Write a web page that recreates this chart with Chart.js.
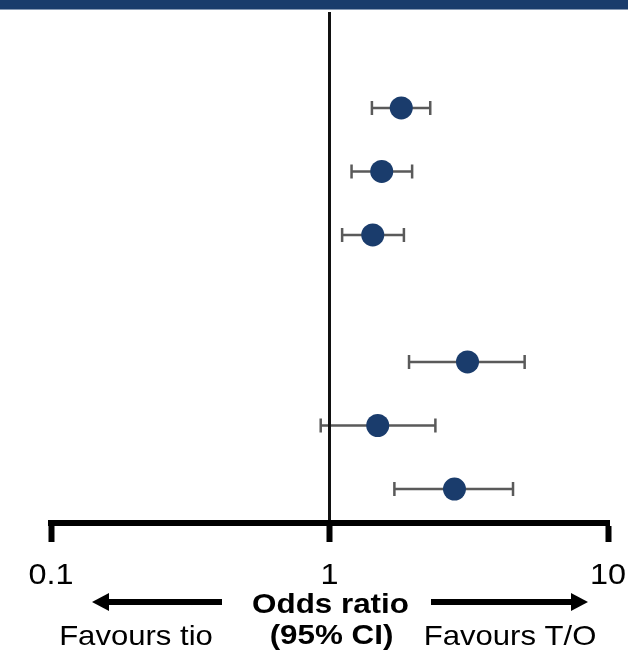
<!DOCTYPE html>
<html>
<head>
<meta charset="utf-8">
<script src="https://cdn.jsdelivr.net/npm/chart.js@4.4.1/dist/chart.umd.min.js"></script>
<style>
  html, body { margin: 0; padding: 0; background: #fff; }
  canvas { display: block; }
</style>
</head>
<body>
<canvas id="forest" width="628" height="657"></canvas>
<script>
// forest plot: odds ratio with 95% CI, log x axis
const rows = [1, 2, 3, 5, 6, 7];
const oddsRatio = [1.81, 1.54, 1.43, 3.13, 1.49, 2.81];
const ciLower = [1.42, 1.20, 1.11, 1.93, 0.93, 1.71];
const ciUpper = [2.30, 1.98, 1.85, 5.02, 2.40, 4.56];
const tickValues = [0.1, 1, 10];
const tickLabels = ['0.1', '1', '10'];
const axisTitle = ['Odds ratio', '(95% CI)'];
const favourLeft = 'Favours tio';
const favourRight = 'Favours T/O';

const NAVY = '#1a3c6c';
const FONT = '"Liberation Sans", Arial, sans-serif';

// text in the reference is slightly wider than plain Arial
function wideText(ctx, text, x, y, font, sx) {
  ctx.save();
  ctx.font = font;
  ctx.fillStyle = '#000';
  ctx.textAlign = 'center';
  ctx.textBaseline = 'alphabetic';
  ctx.translate(x, y);
  ctx.scale(sx, 1);
  ctx.fillText(text, 0, 0);
  ctx.restore();
}

function arrow(ctx, x0, x1, y) {
  const dir = Math.sign(x1 - x0);
  const headLen = 17, headH = 9;
  ctx.save();
  ctx.strokeStyle = '#000';
  ctx.fillStyle = '#000';
  ctx.lineWidth = 6;
  ctx.beginPath();
  ctx.moveTo(x0, y);
  ctx.lineTo(x1 - dir * headLen, y);
  ctx.stroke();
  ctx.beginPath();
  ctx.moveTo(x1, y);
  ctx.lineTo(x1 - dir * headLen, y - headH);
  ctx.lineTo(x1 - dir * headLen, y + headH);
  ctx.closePath();
  ctx.fill();
  ctx.restore();
}

const errorBars = {
  id: 'errorBars',
  beforeDraw(chart) {
    const ctx = chart.ctx;
    const xs = chart.scales.x, ys = chart.scales.y;
    // header band
    ctx.save();
    ctx.fillStyle = NAVY;
    ctx.fillRect(0, 0, chart.width, 9);
    ctx.fillStyle = '#8799b4';
    ctx.fillRect(0, 9, chart.width, 1);
    ctx.restore();

    ctx.save();
    ctx.strokeStyle = '#5a5a5a';
    ctx.lineWidth = 2.5;
    rows.forEach((r, i) => {
      const y = ys.getPixelForValue(r);
      const a = xs.getPixelForValue(ciLower[i]);
      const b = xs.getPixelForValue(ciUpper[i]);
      ctx.beginPath();
      ctx.moveTo(a, y); ctx.lineTo(b, y);
      ctx.moveTo(a, y - 7); ctx.lineTo(a, y + 7);
      ctx.moveTo(b, y - 7); ctx.lineTo(b, y + 7);
      ctx.stroke();
    });
    ctx.restore();
  },
  afterDraw(chart) {
    const ctx = chart.ctx;
    const xs = chart.scales.x;
    const mid = xs.getPixelForValue(1);
    tickValues.forEach((v, i) => {
      wideText(ctx, tickLabels[i], xs.getPixelForValue(v), 584, '30px ' + FONT, 1.08);
    });
    wideText(ctx, axisTitle[0], mid + 1, 613, 'bold 28px ' + FONT, 1.12);
    wideText(ctx, axisTitle[1], mid + 2, 644, 'bold 28px ' + FONT, 1.12);
    wideText(ctx, favourLeft, 136, 645, '28px ' + FONT, 1.11);
    wideText(ctx, favourRight, 510, 645, '28px ' + FONT, 1.11);
    arrow(ctx, 222, 92, 602);
    arrow(ctx, 431, 588, 602);
  }
};

new Chart(document.getElementById('forest'), {
  type: 'scatter',
  data: {
    datasets: [{
      label: 'Odds ratio',
      data: rows.map((r, i) => ({ x: oddsRatio[i], y: r })),
      backgroundColor: NAVY,
      borderWidth: 0,
      pointRadius: 11.5,
      pointHoverRadius: 11.5
    }]
  },
  options: {
    responsive: false,
    animation: false,
    devicePixelRatio: 1,
    layout: { padding: { left: 51, right: 20, top: 12, bottom: 0 } },
    plugins: { legend: { display: false }, tooltip: { enabled: false } },
    scales: {
      x: {
        type: 'logarithmic',
        min: 0.1,
        max: 10,
        afterBuildTicks(scale) { scale.ticks = tickValues.map(v => ({ value: v })); },
        afterFit(scale) { scale.height = 134; },
        ticks: { display: false },
        border: { display: true, color: '#000', width: 6 },
        grid: {
          drawOnChartArea: true,
          color: c => (c.tick && c.tick.value === 1 ? '#111' : 'rgba(0,0,0,0)'),
          lineWidth: 3,
          tickColor: '#000',
          tickWidth: 6,
          tickLength: 19
        }
      },
      y: {
        type: 'linear',
        reverse: true,
        min: -0.51,
        max: 7.535,
        display: false
      }
    }
  },
  plugins: [errorBars]
});
</script>
</body>
</html>
